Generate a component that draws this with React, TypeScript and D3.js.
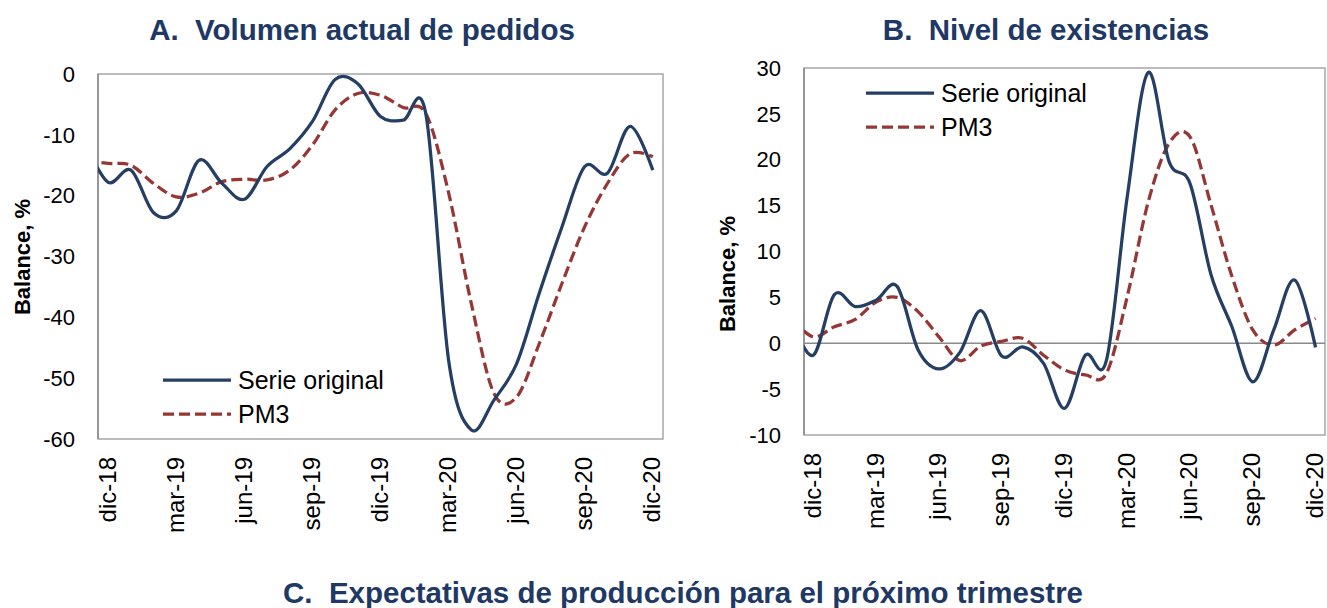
import React from "react";
import * as d3 from "d3";

// monthly points, nov-18 .. dic-20 (nov-18 sits left of the axis start and is clipped)
const months = [
  "nov-18", "dic-18", "ene-19", "feb-19", "mar-19", "abr-19", "may-19", "jun-19",
  "jul-19", "ago-19", "sep-19", "oct-19", "nov-19", "dic-19", "ene-20", "feb-20",
  "mar-20", "abr-20", "may-20", "jun-20", "jul-20", "ago-20", "sep-20", "oct-20",
  "nov-20", "dic-20",
];
const tickLabels = ["dic-18", "mar-19", "jun-19", "sep-19", "dic-19", "mar-20", "jun-20", "sep-20", "dic-20"];

// A. Volumen actual de pedidos
const pedidosSerie = [
  -11.5, -17.8, -15.8, -22.8, -22.5, -14.2, -17.9, -20.6, -15.2, -12.3, -7.8, -0.9, -1.6,
  -7.0, -7.6, -6.6, -47.0, -58.5, -53.6, -47.6, -36.0, -25.1, -15.2, -16.3, -8.6, -15.8,
];
const pedidosPM3 = [
  -14.3, -14.7, -15.0, -18.0, -20.2, -19.6, -17.7, -17.3, -17.4, -15.8, -11.7, -5.9, -3.2,
  -3.5, -5.5, -6.5, -19.5, -37.7, -52.5, -53.1, -44.3, -34.4, -25.1, -18.0, -13.1, -13.6,
];

// B. Nivel de existencias
const existSerie = [
  2.2, -1.3, 5.3, 4.0, 4.7, 6.2, -0.7, -2.8, -1.0, 3.55, -1.4, -0.4, -2.2,
  -7.1, -1.3, -1.9, 16.0, 29.5, 19.8, 17.4, 7.5, 1.8, -4.2, 1.45, 6.9, -0.45,
];
const existPM3 = [
  2.6, 0.7, 1.8, 2.6, 4.5, 5.0, 3.45, 0.7, -1.9, -0.3, 0.2, 0.55, -1.3,
  -2.9, -3.45, -3.3, 5.1, 15.4, 21.8, 22.5, 15.1, 7.3, 1.45, -0.2, 1.45, 2.7,
];

const NAVY = "#243f63";
const RED = "#953735";
const TITLE = "#203864";
const FONT = "'Liberation Sans', Arial, sans-serif";

type Panel = {
  id: string;
  title: string;
  titleX: number;
  left: number;
  right: number;
  top: number;
  bottom: number;
  yMin: number;
  yMax: number;
  yStep: number;
  serie: number[];
  pm3: number[];
  zeroLine: boolean;
  axisTitleX: number;
  axisTitleY: number;
  legendX: number;
  legendY: number;
};

const panels: Panel[] = [
  {
    id: "a", title: "A.  Volumen actual de pedidos", titleX: 362,
    left: 98, right: 663, top: 74, bottom: 439,
    yMin: -60, yMax: 0, yStep: 10,
    serie: pedidosSerie, pm3: pedidosPM3, zeroLine: false,
    axisTitleX: 22, axisTitleY: 257, legendX: 163, legendY: 380,
  },
  {
    id: "b", title: "B.  Nivel de existencias", titleX: 1046,
    left: 804, right: 1325, top: 68, bottom: 435,
    yMin: -10, yMax: 30, yStep: 5,
    serie: existSerie, pm3: existPM3, zeroLine: true,
    axisTitleX: 727, axisTitleY: 274, legendX: 866, legendY: 93,
  },
];

const pre = { whiteSpace: "pre" as const };

function ChartPanel({ p }: { p: Panel }) {
  const x = d3.scaleLinear().domain([-0.45, 24.45]).range([p.left, p.right]);
  const y = d3.scaleLinear().domain([p.yMin, p.yMax]).range([p.bottom, p.top]);
  const line = d3
    .line<number>()
    .x((_, i) => x(i - 1))
    .y((d) => y(d))
    .curve(d3.curveCardinal.tension(0));
  const yTicks = d3.range(p.yMin, p.yMax + 0.001, p.yStep);
  const clipId = `clip-${p.id}`;

  return (
    <g>
      <text x={p.titleX} y={39.5} textAnchor="middle" fontSize={29.5} fontWeight="bold" fill={TITLE}
        style={pre} xmlSpace="preserve">
        {p.title}
      </text>
      <defs>
        <clipPath id={clipId}>
          <rect x={p.left} y={p.top - 4} width={p.right - p.left} height={p.bottom - p.top + 8} />
        </clipPath>
      </defs>
      <rect x={p.left} y={p.top} width={p.right - p.left} height={p.bottom - p.top}
        fill="none" stroke="#a6a6a6" strokeWidth={1.5} />
      <line x1={p.left} x2={p.left} y1={p.top} y2={p.bottom} stroke="#8a8a8a" strokeWidth={1.5} />
      {p.zeroLine && (
        <line x1={p.left} x2={p.right} y1={y(0)} y2={y(0)} stroke="#8a8a8a" strokeWidth={1.5} />
      )}
      {yTicks.map((t) => (
        <text key={t} x={p.left - 23} y={y(t)} dy="0.35em" textAnchor="end" fontSize={22} fill="#000">
          {t}
        </text>
      ))}
      {tickLabels.map((lab) => {
        const xi = x(months.indexOf(lab) - 1) - 1;
        const yi = p.bottom + 18;
        return (
          <text key={lab} transform={`translate(${xi},${yi}) rotate(-90)`} dy="0.35em"
            textAnchor="end" fontSize={24} fill="#000">
            {lab}
          </text>
        );
      })}
      <text transform={`translate(${p.axisTitleX},${p.axisTitleY}) rotate(-90)`} dy="0.35em"
        textAnchor="middle" fontSize={22} fontWeight="bold" fill="#000">
        Balance, %
      </text>
      <g clipPath={`url(#${clipId})`}>
        <path d={line(p.pm3) ?? ""} fill="none" stroke={RED} strokeWidth={3.25} strokeDasharray="11 5" />
        <path d={line(p.serie) ?? ""} fill="none" stroke={NAVY} strokeWidth={3.25} />
      </g>
      <line x1={p.legendX} x2={p.legendX + 68} y1={p.legendY} y2={p.legendY} stroke={NAVY} strokeWidth={3.25} />
      <text x={p.legendX + 75} y={p.legendY} dy="0.35em" fontSize={25} fill="#000">Serie original</text>
      <line x1={p.legendX} x2={p.legendX + 68} y1={p.legendY + 34} y2={p.legendY + 34} stroke={RED}
        strokeWidth={3.25} strokeDasharray="11 5" />
      <text x={p.legendX + 75} y={p.legendY + 34} dy="0.35em" fontSize={25} fill="#000">PM3</text>
    </g>
  );
}

export default function App() {
  return (
    <svg width={1327} height={608} style={{ position: "absolute", left: 0, top: 0, background: "#fff" }}
      fontFamily={FONT}>
      <rect width={1327} height={608} fill="#fff" />
      {panels.map((p) => (
        <ChartPanel key={p.id} p={p} />
      ))}
      <text x={683} y={603} textAnchor="middle" fontSize={29.5} fontWeight="bold" fill={TITLE}
        style={pre} xmlSpace="preserve">
        C.  Expectativas de producción para el próximo trimestre
      </text>
    </svg>
  );
}
